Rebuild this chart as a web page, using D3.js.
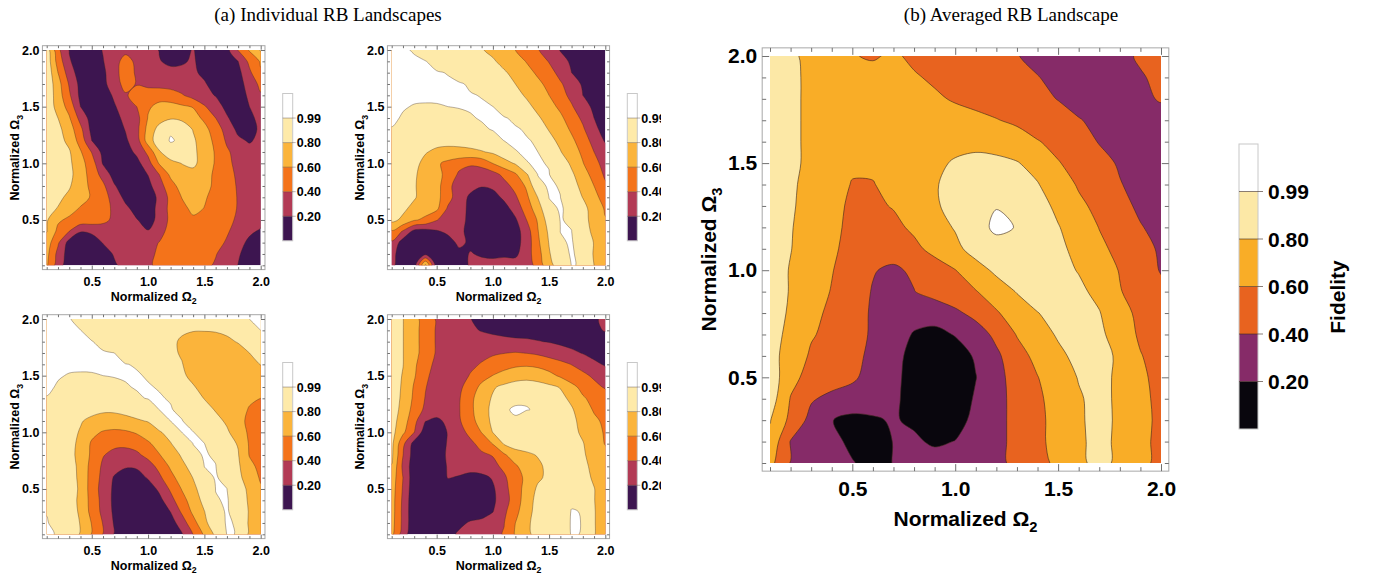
<!DOCTYPE html>
<html>
<head>
<meta charset="utf-8">
<script src="https://cdn.jsdelivr.net/npm/d3@7"></script>
<style>
  body { margin: 0; background: #fff; }
  svg { display: block; }
</style>
</head>
<body>
<svg id="chart" width="1375" height="578"></svg>
<script>
// grid nodes of Normalized Omega2 (columns) and Omega3 (rows, first row = 2.0)
var omega = [0.1,0.2,0.3,0.4,0.5,0.6,0.7,0.8,0.9,1.0,1.1,1.2,1.3,1.4,1.5,1.6,1.7,1.8,1.9,2.0];
var levels = [20, 40, 60, 80, 99];            // fidelity contours, percent
var levelLabels = ["0.20", "0.40", "0.60", "0.80", "0.99"];
var majorTicks = [0.5, 1.0, 1.5, 2.0];

// fidelity (%), rows from Omega3 = 2.0 down to 0.1
var landscapeA = [
  [92,45,19,10,10,21,28,35,36,30,19,12,15,21,12,8,14,41,62,82],
  [93,52,22,10,8,19,33,47,36,28,21,16,18,22,13,6,10,20,45,62],
  [95,60,30,10,6,15,35,47,38,31,27,25,24,23,16,7,8,14,36,58],
  [95,68,38,14,6,14,32,46,39,34,32,31,29,26,22,12,6,12,28,45],
  [95,70,43,15,6,10,23,38,47,52,54,50,42,32,26,19,8,12,23,38],
  [95,72,53,20,8,8,18,30,40,58,64,66,63,59,42,28,15,10,20,30],
  [95,80,62,33,12,6,15,24,33,61,72,78,76,68,56,40,22,10,16,25],
  [95,85,70,45,14,6,10,21,34,67,87,97.5,91,79,66,50,32,15,14,23],
  [95,87,75,52,20,8,8,17,31,70,92,100,97,83,70,55,37,24,18,25],
  [95,89,82,62,39,14,7,12,24,45,78,93.3,93,84,72,58,43,32,27,27],
  [95,90,84,67,50,18,8,8,14,32,62,74,80.5,84,72,58,45,34,30,30],
  [95,91,85,70,52,33,12,6,10,20.5,40,64,72,74,68,56,46,37,32,31],
  [95,90,82,68,56,44,22,8,6,14,32,52,68,72,66,56,48,38,33,32],
  [93,84,76,68,58,47,33,14,6,10,24,46,60.5,65,62,54,47,39,34,33],
  [86,79,68,58,52,46,37,25,12,10,26,46,55,64,59.5,52,46,39,34,32],
  [82,63,56,52,50,45,36,28,21,12,26,45,53,57,56,51,45,37,32,28],
  [81,55,40,21,24,29,30,27,23,21,34,46,52,55,54,50,42,33,24,17],
  [70,43,12,6,8,21,28,31,32,35,40.5,47,51,53,51,46,38,28,15,8],
  [66,34,10,5,5,10,22,30,34,37,42,47,50,50,47,41,32,22,12,6],
  [63,30,8,4,4,8,17,27,33,38,43,47,49,48,44,38,29,19.5,10,5]
];

var landscapeB = [
  [100,99.8,98.5,95,92,90,87,84,81,76,69,60,51,41,31,19,14,10,8,6],
  [100,100,99.8,99.2,97,94,91,88,85,82,75,68,59,49,39,27,17,12,9,7],
  [100,100,100,99.8,99.4,98.8,96,92,89,86,82,75,66,57,46,35,20,13,10,8],
  [100,100,100,100,99.8,99.6,99.6,98.3,93,89,85,80,72,64,55,42,32,17,12,9],
  [100,100,100,100,100,99.8,99.6,99.3,98.8,94,89,85,78,69,60,47,35,20,14,11],
  [100,99.4,98.7,98.5,98.6,99,99.4,99.6,99.5,99.05,96,90,84,76,67,56,42,28,16,12],
  [100,98.5,96,95.5,95.5,96,97,98.5,99.5,99.7,99.4,98,90,82,74,64,50,36,20,14],
  [98.7,95,92,90,90,91,93,95.5,98,99.4,99.8,99.5,98.5,88,79,70,57,43,24,14],
  [96,92,88,86,85,85,86,88,92,96,99.1,99.7,99.3,98.5,85,76,64,50,33,18],
  [93,88,84,81,77,75,75,76,78.5,83,92,98.8,99.6,99,92,81,70,56,40,28],
  [91,87,84,76,63,55,48,43,47,60.5,72,82,98.8,99.6,98.6,90,77,61,45,34],
  [90,86,82,74,64,56,36,30,28,32,45,57,78,99.2,99.3,92,83,70,52,37],
  [89,85,81.5,73,68,45,31,25,21,24,33,46,63,97,99.8,98.6,87,75,60,43],
  [88,84,82,71,66,48,28,17,10,12,24,37,56,80.5,99.2,99.1,91,79.5,65,53],
  [86,84,74,68,64,37,25,17,8,6,12,28,49,71,97,99.7,97,86,72,58],
  [85,76,62,56,41,30,24,17,7,5,8,17,40,62,90,99.3,98.2,86,74,61],
  [58,38,14,12,18,24,23,16,7,5,7,12,30,59,84,99.05,99.1,88,76,60.5],
  [37,10,6,5,6,12,24,17,9,8,9,13,28,56,81,98.5,99.4,96,79,68],
  [28,6,5,15,5,6,15,21,18,16,17,16,31,52,78,97,99.5,97.5,78,68],
  [25,8,8,85,8,7,12,22,25,26,27,28,30,47,75,88,99.3,98.5,80,70]
];

var landscapeC = [
  [100,99.8,99.5,96,93,91,89,88,87,86,86,86,85,84,84,86,90,95,99.05,99.8],
  [100,100,99.8,99.1,96,93,90,88,86,84,83,82,81,80.5,80.5,81,83,88,94,99],
  [100,100,100,99.8,99.3,97,93,90,87,85,83,81.5,79,76,75,75,77,81,86,92],
  [100,100,100,100,99.8,99.6,99.05,95,90,87,84,82,79,74,71,70,71,74,80,85],
  [100,100,100,100,100,99.8,99.6,99.2,98.5,92,88,84,80.5,75,70,67,67,70,75,80.5],
  [100,99.4,98.7,98.5,98.6,99,99.4,99.6,99.5,98.5,94,88,82,77,71,67,65,65,67,71],
  [100,98.5,96,95.5,95.5,96,97,98.5,99.5,99.4,98.6,91,85,81,76,71,68,66,65,64],
  [98.7,95,92,90,90,91,93,95.5,98,99.4,99.5,98.5,91,86,79.5,74,69,65,62,60],
  [96,92,88,86,84,82,82,84,88,93,99.1,99.5,97,91,85,79,72,65,59,54],
  [93,88,84,81,77,75,75,76,78,81,92,99.05,99.4,95,89,84,78,67,55,50],
  [91,87,84,79,66,58,55,57,62,70,78,87,99.05,99.3,95,88,82,73,56,48],
  [90,86,84,77,57,48,44,44,48,57,68,79,91,99.1,99.1,93,85,79,58,50],
  [89,85,84,76,56,41,35,33,36,46,59,71,82,97.5,99.5,98.3,89,81,59,52],
  [88,84,85,77,52,37,28,22,23,31,46,63,76,86,99.1,99.2,92,83,65,55],
  [87,85,86,77,51,35,18,10,11,22,36,54,69,80.5,97,99.4,97.5,85,70,58],
  [86,85,86,78,50,33,16,8,6,9,24,43,61,76,88,99.1,99.05,89,76,62],
  [86,85,86,77,52,34,15,6,4,5,14,33,53,69,86,98.7,99.4,96,76,70],
  [98.8,90,86,78,53,35,16,5,3,3,6,20.5,43,64,79.5,97.5,99.4,97,78,70],
  [99.3,97.5,86,79.5,59,39,18,5,2,2,4,11,30,53,74,96,99.5,98.5,77,69],
  [100,98.5,88,79,59,39.5,19,4,2,2,3,8,18,40.5,63,84,99.4,98.8,77,69]
];

var landscapeD = [
  [88,80.5,66,52,38,32,26,20.5,14,10,8,7,7,7,8,9,11,14,18,23],
  [88,80.5,66,52,38,31,27,23,19,16,13,12,12,11,11,11,12,14,17,21],
  [88,80.5,66,52,38,32,30,29,28,27,26,24,23,21,19,16,13,12,12,12],
  [88,80.5,66,52,38,33,33,34,36,38,39.5,41,39.5,37,33,29,24,19,14,12],
  [88,80.5,64,46,36,34,35,37,41,46,52,56,57,55,50,45,39.5,33,24,18],
  [88,79,62,44,32,30,34,41,52,60.5,67,72,74,72,66,57,50,44,37,29],
  [88,78,58,41,30,31,36,49,65,78,84,88,89,87,84,79,65,55,45,38],
  [88,77,56,39,30,32,38.5,55,71,82,89,97.5,98.5,93,90,85,76,62,55,49],
  [88,75,52,36,29,32,39,55,73,84,98.2,99.8,99.2,98.5,92,88,82,70,58,52],
  [88,70,46,20.5,16,24,38,52,70,84,91,98.2,96,93,91,89,84,75,64,56],
  [87,64,40.5,8,9,21,33,45,60.5,80.5,88,91,90,89,88,87,85,77,67,58],
  [85,45,12,6,7,22,31,36,46,61,82,88,88,87,87,87,86,81,70,59],
  [84,40.5,10,5,6,24,30,33,37,41,57,72,77,81,85,86,85,82,74,66],
  [79,36,8,4,6,22,29,30,32,35,44,57,70,77,84,87,87,84,76,68],
  [72,40,7,3,5,21,18,12,14,22,37,51,65,77,84,87,87,85,78,70],
  [70,38,6,3,4,6,9,8,9,17,34,50,68,83,88,90,90,88,80.5,72],
  [69,36,5,3,3,4,5,5,7,16,32,49,71,86,91,93,98,93,80.5,72],
  [69,35,5,3,3,4,5,6,10,19.5,36,54,73,87,92,95,99.3,98.8,81,72],
  [68,35,5,3,4,7,14,23,26,30,39.5,60,76,88,93,96,99.4,98.9,81,72],
  [66,30,5,3,5,11,24,29,33,36,41,62,76,86,92,95,99.4,98.8,81,72]
];

var averaged = [
  [90,82,77,70,61,58,63,56,53,50,47,44,41,33,28,26,28,34,43,50],
  [90,83,77,73,70,67,65,62,57,53,50,47,44,41,33,28,27,30,38,45],
  [90,83,77,74,72,70,68,66,63,58,54,50,47,44,39.5,34,29,27,35,42],
  [90,83,77,75,74,73,72,71,70,68,65,61,56,51,46,41,36,32,30,31],
  [90,83,77,75,68,69,73,74,76,77,77,75,70,61,55,48,39,34,30,27],
  [90,83,77,72,63,64,70,74,78,81,83,83,81,74,61,54,46,38,32,28],
  [90,82,76,68,59,59,67,74,79,84,87,90,87,81,70,58,50,41,34,29],
  [90,82,74,65,57,57,61,70,78,85,95,98.8,96,87,76,64,55,45,37,31],
  [90,81,73,64,56,53,56,63,72,81.5,97.1,100,98.8,93,81,71,59.5,50,41,35],
  [90,80.5,72,63,54,49,48,56,65,75,88,97.1,98,91,84,75,64,55,45,38],
  [88,79,70,61,50,41,37,43,52,59.5,72,84,92,90,86,79,70,59,48,39],
  [88,79,69,59,48,39,33,39.5,47,53,59,70,81,88,89,84,75,61,52,44],
  [87,78,64,57,47,38,29,25,28,36,46,58,70,79.5,86,88,81,66,56,50],
  [86,76,62,54,46,38,26,19,15,21,30,45,61,72,82,87,84,71,57,50],
  [85,74,57,53,45,36,25,15,10,12,22,36,53,65,76,85,86,77,61,52],
  [92,66,53,49,43,33,24,14,9,10,19.5,33,49,59.5,70,81,86,76,63,55],
  [90,59,42,35,32,28,23,14,9,10,22,33,47,57,67,78,86,76,64,56],
  [81,55,34,20.5,15,18,21.5,17,10,13,25,34,46,56,66,77,87,76,64,57],
  [75,39,30,25,16,12,20.5,23,17,20.5,27,35,45,56,66,76,87,75,63,57],
  [66,39,33,27,21,14,20.5,26,29,30,32,36,44,54,64,75,87,75,63,57]
];

var smallColors = ["#3d1550", "#b23a55", "#f4731a", "#fbb43b", "#feeaa9", "#ffffff"];
var bigColors   = ["#09060d", "#862b68", "#e8631f", "#f9ad27", "#fce8a6", "#ffffff"];
var isoColor = "rgba(60,40,30,0.6)";

var svg = d3.select("#chart");
var defs = svg.append("defs");

var smallStyle = { font: 12.5, major: 4, minor: 2.5, padX: 8, padY: 3, line: 0.6,
                   xTitle: 31, yTitle: 23, legX: 22, legTop: 43.5, legBottom: 24.5, legW: 10,
                   legTick: 3, legLabel: 4 };
var bigStyle = { font: 21, major: 7, minor: 4, padX: 10, padY: 5, line: 1,
                 xTitle: 55, yTitle: 46, legX: 78, legTop: 88, legBottom: 34, legW: 19,
                 legTick: 5, legLabel: 10 };

// left figure is cut at the right edge, as in the original layout
defs.append("clipPath").attr("id", "clip-left").append("rect")
  .attr("x", 0).attr("y", 0).attr("width", 661).attr("height", 578);
var leftFig = svg.append("g").attr("clip-path", "url(#clip-left)");

function panel(parent, id, grid, colors, box, s, withTitle) {
  var n = omega.length, step = omega[1] - omega[0];
  var x = d3.scaleLinear().domain([omega[0], omega[n - 1]]).range([box.x0, box.x1]);
  var y = d3.scaleLinear().domain([omega[0], omega[n - 1]]).range([box.y1, box.y0]);
  var values = grid.reduce(function(a, r) { return a.concat(r); }, []);
  var bands = d3.contours().size([n, n]).thresholds(levels)(values);

  var line = d3.line()
    .x(function(p) { return x(omega[0] + step * (p[0] - 0.5)); })
    .y(function(p) { return y(omega[n - 1] - step * (p[1] - 0.5)); })
    .curve(d3.curveCatmullRomClosed.alpha(0.5));
  function toPath(mp) {
    return mp.coordinates.map(function(poly) {
      return poly.map(function(ring) { return line(ring.slice(0, -1)); }).join("");
    }).join("");
  }

  defs.append("clipPath").attr("id", "clip-" + id).append("rect")
    .attr("x", box.x0).attr("y", box.y0)
    .attr("width", box.x1 - box.x0).attr("height", box.y1 - box.y0);

  var g = parent.append("g");
  var plot = g.append("g").attr("clip-path", "url(#clip-" + id + ")");
  plot.append("rect")
    .attr("x", box.x0).attr("y", box.y0)
    .attr("width", box.x1 - box.x0).attr("height", box.y1 - box.y0)
    .attr("fill", colors[0]);
  plot.selectAll("path.band").data(bands).join("path")
    .attr("class", "band")
    .attr("d", toPath)
    .attr("fill-rule", "evenodd")
    .attr("fill", function(d, i) { return colors[i + 1]; });
  plot.selectAll("path.iso").data(bands).join("path")
    .attr("class", "iso")
    .attr("d", toPath)
    .attr("fill", "none")
    .attr("stroke", isoColor)
    .attr("stroke-width", s.line);

  // frame with 2% padding, ticks on every side
  var pad = 0.02 * (omega[n - 1] - omega[0]);
  var fr = { l: x(omega[0] - pad), r: x(omega[n - 1] + pad), t: y(omega[n - 1] + pad), b: y(omega[0] - pad) };
  g.append("rect")
    .attr("x", fr.l).attr("y", fr.t)
    .attr("width", fr.r - fr.l).attr("height", fr.b - fr.t)
    .attr("fill", "none").attr("stroke", "#a8a8a8").attr("stroke-width", 1);

  var minor = omega.filter(function(v) { return majorTicks.indexOf(v) < 0; });
  function styleAxis(sel) {
    sel.select(".domain").remove();
    sel.selectAll(".tick line").attr("stroke", "#707070");
    sel.selectAll("text")
      .attr("font-family", "'Liberation Sans', Arial, sans-serif")
      .attr("font-weight", "bold")
      .attr("font-size", s.font)
      .attr("fill", "#000");
  }
  var sides = [
    [d3.axisBottom, x, "translate(0," + fr.b + ")", s.padX, true],
    [d3.axisTop, x, "translate(0," + fr.t + ")", s.padX, false],
    [d3.axisLeft, y, "translate(" + fr.l + ",0)", s.padY, true],
    [d3.axisRight, y, "translate(" + fr.r + ",0)", s.padY, false]
  ];
  sides.forEach(function(a) {
    g.append("g").attr("transform", a[2])
      .call(a[0](a[1]).tickValues(majorTicks).tickSize(-s.major).tickPadding(a[3])
        .tickFormat(a[4] ? d3.format(".1f") : ""))
      .call(styleAxis);
    g.append("g").attr("transform", a[2])
      .call(a[0](a[1]).tickValues(minor).tickSize(-s.minor).tickFormat(""))
      .call(styleAxis);
  });

  // axis titles
  var xt = g.append("text")
    .attr("x", (box.x0 + box.x1) / 2).attr("y", fr.b + s.xTitle)
    .attr("text-anchor", "middle")
    .attr("font-family", "'Liberation Sans', Arial, sans-serif")
    .attr("font-weight", "bold").attr("font-size", s.font);
  xt.append("tspan").text("Normalized \u03A9");
  xt.append("tspan").attr("font-size", s.font * 0.7).attr("dy", s.font * 0.28).text("2");

  var yt = g.append("text")
    .attr("transform", "translate(" + (fr.l - s.yTitle) + "," + ((box.y0 + box.y1) / 2) + ") rotate(-90)")
    .attr("text-anchor", "middle")
    .attr("font-family", "'Liberation Sans', Arial, sans-serif")
    .attr("font-weight", "bold").attr("font-size", s.font);
  yt.append("tspan").text("Normalized \u03A9");
  yt.append("tspan").attr("font-size", s.font * 0.7).attr("dy", s.font * 0.28).text("3");

  // colour legend
  var lx = box.x1 + s.legX, ltop = box.y0 + s.legTop, lbot = box.y1 - s.legBottom;
  var band = (lbot - ltop) / colors.length;
  var leg = g.append("g");
  leg.selectAll("rect.sw").data(colors).join("rect")
    .attr("class", "sw")
    .attr("x", lx).attr("width", s.legW)
    .attr("y", function(d, i) { return lbot - (i + 1) * band; })
    .attr("height", band)
    .attr("fill", function(d) { return d; });
  leg.append("rect")
    .attr("x", lx).attr("y", ltop).attr("width", s.legW).attr("height", lbot - ltop)
    .attr("fill", "none").attr("stroke", "#c8c8c8").attr("stroke-width", 1);
  leg.selectAll("line.sep").data(levelLabels).join("line")
    .attr("class", "sep")
    .attr("x1", lx).attr("x2", lx + s.legW + s.legTick)
    .attr("y1", function(d, i) { return lbot - (i + 1) * band; })
    .attr("y2", function(d, i) { return lbot - (i + 1) * band; })
    .attr("stroke", isoColor).attr("stroke-width", s.line);
  leg.selectAll("text.lab").data(levelLabels).join("text")
    .attr("class", "lab")
    .attr("x", lx + s.legW + s.legLabel)
    .attr("y", function(d, i) { return lbot - (i + 1) * band; })
    .attr("dy", "0.36em")
    .attr("font-family", "'Liberation Sans', Arial, sans-serif")
    .attr("font-weight", "bold").attr("font-size", s.font)
    .text(function(d) { return d; });
  if (withTitle) {
    leg.append("text")
      .attr("transform", "translate(" + (lx + 106) + "," + (ltop + 153) + ") rotate(-90)")
      .attr("text-anchor", "middle")
      .attr("font-family", "'Liberation Sans', Arial, sans-serif")
      .attr("font-weight", "bold").attr("font-size", s.font)
      .text("Fidelity");
  }
}

panel(leftFig, "a1", landscapeA, smallColors, { x0: 46.7, x1: 260.7, y0: 50, y1: 265.3 }, smallStyle, false);
panel(leftFig, "a2", landscapeB, smallColors, { x0: 391.7, x1: 605.3, y0: 50, y1: 265.3 }, smallStyle, false);
panel(leftFig, "a3", landscapeC, smallColors, { x0: 46.7, x1: 260.7, y0: 319, y1: 534.3 }, smallStyle, false);
panel(leftFig, "a4", landscapeD, smallColors, { x0: 391.7, x1: 605.3, y0: 319, y1: 534.3 }, smallStyle, false);
panel(svg, "b", averaged, bigColors, { x0: 770, x1: 1161, y0: 56, y1: 463 }, bigStyle, true);

// figure titles
svg.append("text")
  .attr("x", 328).attr("y", 21).attr("text-anchor", "middle")
  .attr("font-family", "'Liberation Serif', 'Times New Roman', serif")
  .attr("font-size", 19)
  .text("(a) Individual RB Landscapes");
svg.append("text")
  .attr("x", 1011).attr("y", 21).attr("text-anchor", "middle")
  .attr("font-family", "'Liberation Serif', 'Times New Roman', serif")
  .attr("font-size", 19)
  .text("(b) Averaged RB Landscape");
</script>
</body>
</html>
